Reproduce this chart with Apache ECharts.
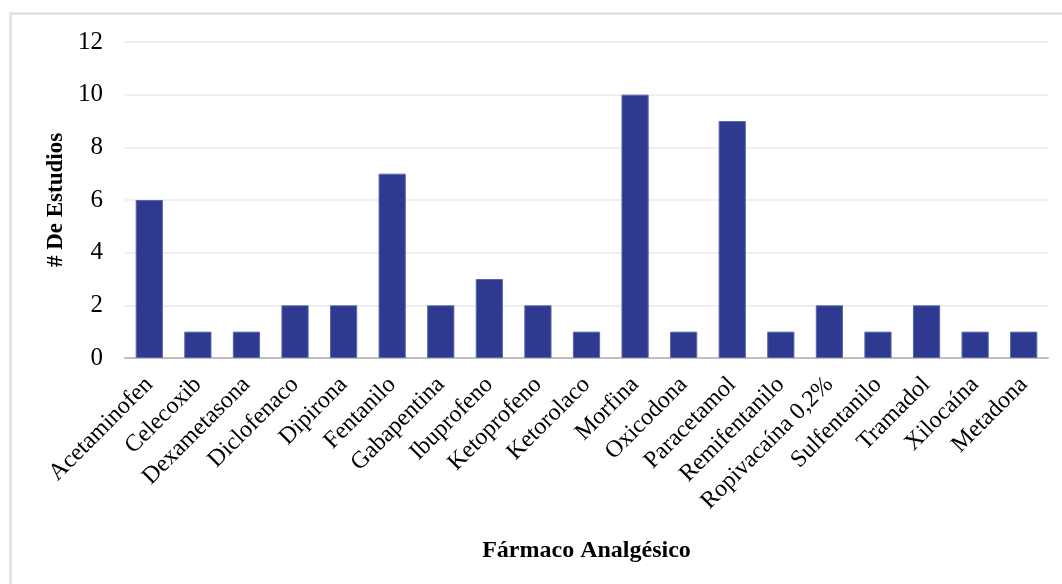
<!DOCTYPE html>
<html>
<head>
<meta charset="utf-8">
<script src="https://cdn.jsdelivr.net/npm/echarts@6/dist/echarts.min.js"></script>
<style>
  html, body { margin: 0; padding: 0; background: #fff; }
  #chart { width: 1062px; height: 584px; }
</style>
</head>
<body>
<div id="chart"></div>
<script>
// Analgesic drugs and number of studies for each
const categories = [
  'Acetaminofen', 'Celecoxib', 'Dexametasona', 'Diclofenaco', 'Dipirona',
  'Fentanilo', 'Gabapentina', 'Ibuprofeno', 'Ketoprofeno', 'Ketorolaco',
  'Morfina', 'Oxicodona', 'Paracetamol', 'Remifentanilo', 'Ropivacaína 0,2%',
  'Sulfentanilo', 'Tramadol', 'Xilocaína', 'Metadona'
];
const studies = [6, 1, 1, 2, 2, 7, 2, 3, 2, 1, 10, 1, 9, 1, 2, 1, 2, 1, 1];
const yTicks = { min: 0, max: 12, interval: 2 };

const FONT = '"Liberation Serif", "Times New Roman", serif';

const chart = echarts.init(document.getElementById('chart'), null, { renderer: 'canvas' });
chart.setOption({
  animation: false,
  backgroundColor: '#ffffff',
  graphic: [{
    type: 'rect',
    shape: { x: 10.5, y: 13.5, width: 1200, height: 700 },
    style: { fill: 'none', stroke: '#d9d9d9', lineWidth: 2 },
    silent: true,
    z: -1
  }],
  grid: { left: 125, right: 14, top: 42, bottom: 226 },
  xAxis: {
    type: 'category',
    data: categories,
    axisLine: { lineStyle: { color: '#bfbfbf', width: 2 } },
    axisTick: { show: false },
    axisLabel: {
      interval: 0,
      rotate: 45,
      margin: 23,
      color: '#000',
      fontFamily: FONT,
      fontSize: 24
    },
    name: 'Fármaco Analgésico',
    nameLocation: 'middle',
    nameGap: 181,
    nameTextStyle: { color: '#000', fontFamily: FONT, fontSize: 24, fontWeight: 'bold' }
  },
  yAxis: {
    type: 'value',
    min: yTicks.min,
    max: yTicks.max,
    interval: yTicks.interval,
    axisLine: { show: false },
    axisTick: { show: false },
    splitLine: { lineStyle: { color: '#efefef', width: 2 } },
    axisLabel: { color: '#000', fontFamily: FONT, fontSize: 25, margin: 22 },
    name: '# De Estudios',
    nameLocation: 'middle',
    nameGap: 56,
    nameTextStyle: { color: '#000', fontFamily: FONT, fontSize: 23, fontWeight: 'bold' }
  },
  series: [{
    type: 'bar',
    data: studies,
    barCategoryGap: '44%',
    itemStyle: { color: '#2e3990', borderColor: '#5a66b0', borderWidth: 1 }
  }]
});
</script>
</body>
</html>
